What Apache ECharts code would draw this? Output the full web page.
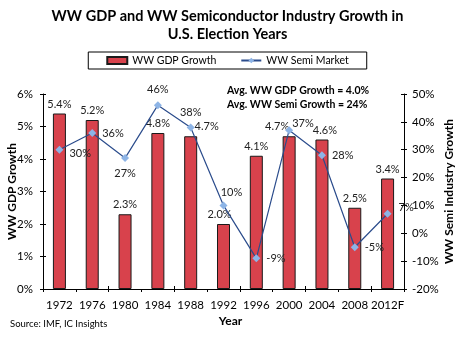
<!DOCTYPE html>
<html>
<head>
<meta charset="utf-8">
<script src="https://cdn.jsdelivr.net/npm/echarts@6/dist/echarts.min.js"></script>
<style>
  html, body { margin: 0; padding: 0; background: #fff; }
  #chart { width: 455px; height: 339px; }
</style>
</head>
<body>
<div id="chart"></div>
<script>
// Election years and growth figures
const years = ['1972', '1976', '1980', '1984', '1988', '1992', '1996', '2000', '2004', '2008', '2012F'];
const gdpGrowth = [5.4, 5.2, 2.3, 4.8, 4.7, 2.0, 4.1, 4.7, 4.6, 2.5, 3.4];
const semiGrowth = [30, 36, 27, 46, 38, 10, -9, 37, 28, -5, 7];
const avgNotes = ['Avg. WW GDP Growth = 4.0%', 'Avg. WW Semi Growth = 24%'];

const FONT = 'Lato, Open Sans, sans-serif';

// label placement tweaks so the two series' labels do not collide
const semiLabelPlacement = {
  '1972': { position: 'right', offset: [0, 4] },
  '1980': { position: 'bottom', offset: [0, 0] },
  '1984': { position: 'top', offset: [0, 0] },
  '1988': { position: 'top', offset: [0, 1] },
  '1992': { position: 'top', offset: [8, 3] },
  '2000': { position: 'right', offset: [-7, -7] },
  '2012F': { position: 'right', offset: [1, -6] }
};
const gdpLabelPlacement = {
  '1988': { offset: [16, 0] },
  '1992': { offset: [-4, 0] },
  '2000': { offset: [-12, 0] },
  '2004': { offset: [3, 0] }
};

const gdpData = gdpGrowth.map((v, i) => {
  const p = gdpLabelPlacement[years[i]];
  return p ? { value: v, label: { offset: p.offset } } : v;
});
const semiData = semiGrowth.map((v, i) => {
  const p = semiLabelPlacement[years[i]];
  return p ? { value: v, label: { position: p.position, offset: p.offset } } : v;
});

const tickLabel = { color: '#000', fontFamily: FONT, fontSize: 11.5 };
const axisLine = { show: true, onZero: false, lineStyle: { color: '#000', width: 1 } };

const chart = echarts.init(document.getElementById('chart'), null, { renderer: 'canvas' });
chart.setOption({
  animation: false,
  backgroundColor: '#fff',
  title: {
    text: 'WW GDP and WW Semiconductor Industry Growth in\nU.S. Election Years',
    left: 'center',
    top: 3,
    textStyle: { fontFamily: FONT, fontSize: 14.5, fontWeight: 'bold', color: '#000', lineHeight: 17.5 }
  },
  legend: {
    top: 52,
    left: 'center',
    itemWidth: 20,
    itemHeight: 7,
    itemGap: 24,
    padding: [3, 18, 3, 18],
    borderColor: '#000',
    borderWidth: 1,
    textStyle: { fontFamily: FONT, fontSize: 10.5, color: '#000' },
    data: [
      { name: 'WW GDP Growth', icon: 'rect' },
      { name: 'WW Semi Market' }
    ]
  },
  grid: { left: 43, right: 51, top: 94, bottom: 50, containLabel: false, outerBoundsMode: 'none' },
  xAxis: [
    {
      type: 'category',
      data: years,
      name: 'Year',
      nameLocation: 'middle',
      nameGap: 26,
      nameMoveOverlap: false,
      nameTextStyle: { fontFamily: FONT, fontSize: 12, fontWeight: 'bold', color: '#000', padding: [0, 0, 0, 14] },
      axisLine: axisLine,
      axisTick: { show: true, inside: false, length: 3, lineStyle: { color: '#000' } },
      axisLabel: Object.assign({ margin: 10, interval: 0 }, tickLabel)
    },
    {
      type: 'category',
      data: years,
      position: 'bottom',
      axisLine: { show: false, onZero: false },
      axisTick: { show: true, inside: true, length: 3, lineStyle: { color: '#000' } },
      axisLabel: { show: false }
    }
  ],
  yAxis: [
    {
      type: 'value',
      min: 0, max: 6, interval: 1,
      name: 'WW GDP Growth',
      nameLocation: 'middle',
      nameGap: 25,
      nameRotate: 90,
      nameMoveOverlap: false,
      nameTextStyle: { fontFamily: FONT, fontSize: 12, fontWeight: 'bold', color: '#000' },
      axisLine: axisLine,
      axisTick: { show: true, length: 3, lineStyle: { color: '#000' } },
      splitLine: { show: false },
      axisLabel: Object.assign({ formatter: '{value}%', margin: 10 }, tickLabel)
    },
    {
      type: 'value',
      min: -20, max: 50, interval: 10,
      name: 'WW Semi Industry Growth',
      nameLocation: 'middle',
      nameGap: 39,
      nameRotate: 90,
      nameMoveOverlap: false,
      position: 'right',
      nameTextStyle: { fontFamily: FONT, fontSize: 12, fontWeight: 'bold', color: '#000' },
      axisLine: axisLine,
      axisTick: { show: true, length: 3, lineStyle: { color: '#000' } },
      splitLine: { show: false },
      axisLabel: Object.assign({ formatter: '{value}%', margin: 8 }, tickLabel)
    },
    {
      type: 'value',
      min: 0, max: 6, interval: 1,
      position: 'left',
      axisLine: { show: false, onZero: false },
      axisTick: { show: true, inside: true, length: 3, lineStyle: { color: '#000' } },
      axisLabel: { show: false },
      splitLine: { show: false }
    },
    {
      type: 'value',
      min: -20, max: 50, interval: 10,
      position: 'right',
      axisLine: { show: false, onZero: false },
      axisTick: { show: true, inside: true, length: 3, lineStyle: { color: '#000' } },
      axisLabel: { show: false },
      splitLine: { show: false }
    }
  ],
  series: [
    {
      name: 'WW GDP Growth',
      type: 'bar',
      xAxisIndex: 0,
      yAxisIndex: 0,
      barWidth: 13,
      data: gdpData,
      itemStyle: { color: '#D8424C', borderColor: '#1a1a1a', borderWidth: 1 },
      label: {
        show: true,
        position: 'top',
        distance: 4,
        formatter: p => p.value.toFixed(1) + '%',
        fontFamily: FONT, fontSize: 11, color: '#222'
      },
      z: 2
    },
    {
      name: 'WW Semi Market',
      type: 'line',
      xAxisIndex: 0,
      yAxisIndex: 1,
      data: semiData,
      symbol: 'diamond',
      symbolSize: 8,
      lineStyle: { color: '#2B4C8C', width: 1.2 },
      itemStyle: { color: '#8DB4E6' },
      label: {
        show: true,
        position: 'right',
        distance: 6,
        formatter: '{c}%',
        fontFamily: FONT, fontSize: 11, color: '#222'
      },
      z: 3
    }
  ],
  graphic: [
    {
      type: 'text',
      left: 227,
      top: 84,
      style: {
        text: avgNotes.join('\n'),
        fontFamily: FONT,
        fontSize: 10.5,
        fontWeight: 'bold',
        lineHeight: 14,
        fill: '#000'
      }
    },
    {
      type: 'text',
      left: 10,
      top: 319,
      style: {
        text: 'Source: IMF, IC Insights',
        fontFamily: FONT,
        fontSize: 9.5,
        fill: '#000'
      }
    }
  ]
});
</script>
</body>
</html>
